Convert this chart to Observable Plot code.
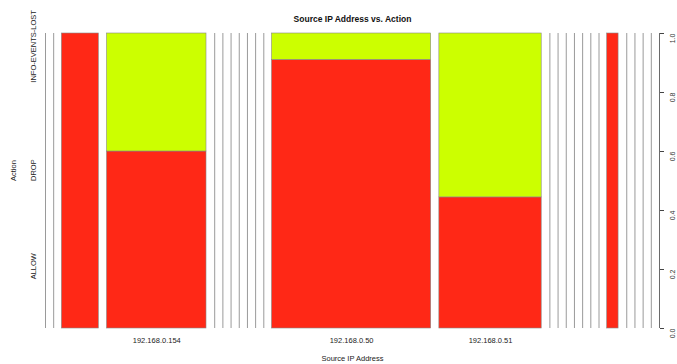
<!DOCTYPE html>
<html>
<head>
<meta charset="utf-8">
<script src="https://cdn.jsdelivr.net/npm/d3@7"></script>
<script src="https://cdn.jsdelivr.net/npm/@observablehq/plot@0.6"></script>
<style>
  html, body { margin: 0; padding: 0; background: #fff; }
  #chart svg { display: block; }
</style>
</head>
<body>
<div id="chart"></div>
<script>
// Source IP categories in plotted order (null = label not shown in the original)
const sourceIPs = [
  null, null, null, "192.168.0.154",
  null, null, null, null, null, null, null,
  "192.168.0.50", "192.168.0.51",
  null, null, null, null, null, null, null,
  null,
  null, null, null, null
];
// Counts per action for each source IP
const allowCounts = [0, 0, 13, 21, 0, 0, 0, 0, 0, 0, 0, 51, 16, 0, 0, 0, 0, 0, 0, 0, 4, 0, 0, 0, 0];
const dropCounts  = [0, 0,  0, 14, 0, 0, 0, 0, 0, 0, 0,  5, 20, 0, 0, 0, 0, 0, 0, 0, 0, 0, 0, 0, 0];
const infoCounts  = [0, 0,  0,  0, 0, 0, 0, 0, 0, 0, 0,  0,  0, 0, 0, 0, 0, 0, 0, 0, 0, 0, 0, 0, 0];
const actions = ["ALLOW", "DROP", "INFO-EVENTS-LOST"];
const actionColors = ["#FF2816", "#CCFF00", "#FFFFFF"];
const yTicks = [0, 0.2, 0.4, 0.6, 0.8, 1.0];
const off = 0.02; // spineplot gap (2%)

const countsByAction = [allowCounts, dropCounts, infoCounts];
const N = d3.sum(sourceIPs.map((_, i) => allowCounts[i] + dropCounts[i] + infoCounts[i]));

// Build column and segment tables
const columns = [];
let cum = 0;
sourceIPs.forEach((ip, i) => {
  const n = allowCounts[i] + dropCounts[i] + infoCounts[i];
  const x1 = cum / N + i * off;
  const x2 = x1 + n / N;
  columns.push({ip, n, x1, x2, xc: (x1 + x2) / 2});
  cum += n;
});
const segments = [];
columns.forEach((c, i) => {
  if (c.n === 0) return;
  let acc = 0;
  actions.forEach((a, k) => {
    const v = countsByAction[k][i];
    if (v > 0) {
      segments.push({ip: c.ip, action: a, x1: c.x1, x2: c.x2, y1: acc / c.n, y2: (acc + v) / c.n});
    }
    acc += v;
  });
});
const xMax = 1 + off * sourceIPs.length;
const empty = columns.filter(c => c.n === 0);
const labeled = columns.filter(c => c.ip);

const font = "'Liberation Sans', Arial, Helvetica, sans-serif";

const chart = Plot.plot({
  width: 677,
  height: 364,
  marginLeft: 45,
  marginRight: 18,
  marginTop: 33,
  marginBottom: 36,
  style: {fontFamily: font, fontSize: "7.5px", color: "#222", background: "#fff"},
  x: {domain: [0, xMax], axis: null},
  y: {domain: [0, 1], axis: null},
  color: {domain: actions, range: actionColors},
  marks: [
    Plot.ruleX(empty, {x: "x1", y1: 0, y2: 1, stroke: "#9a9a9a", strokeWidth: 1}),
    Plot.rect(segments, {x1: "x1", x2: "x2", y1: "y1", y2: "y2", fill: "action", stroke: "#888", strokeWidth: 0.6}),
    // right axis
    Plot.ruleX([xMax], {y1: 0, y2: 1, stroke: "#444", strokeWidth: 0.8}),
    Plot.axisY({anchor: "right", ticks: yTicks, tickSize: 4, tickFormat: () => "", stroke: "#444"}),
    Plot.text(yTicks, {y: d => d, text: d => d3.format(".1f")(d), frameAnchor: "right", dx: 13,
      rotate: -90, fontSize: 7, fill: "#333"}),
    // left labels (equidistant, as in spineplot)
    Plot.text(actions, {y: (d, i) => (i + 0.5) / actions.length, text: d => d, frameAnchor: "left",
      dx: -12, rotate: -90, fontSize: 7.5, fill: "#222"}),
    Plot.text(["Action"], {y: 0.5, text: d => d, frameAnchor: "left", dx: -32, rotate: -90, fontSize: 7.5, fill: "#222"}),
    // x labels
    Plot.text(labeled, {x: "xc", text: "ip", frameAnchor: "bottom", dy: 14.5, fontSize: 7.5, fill: "#222"}),
    Plot.text(["Source IP Address"], {x: xMax / 2, text: d => d, frameAnchor: "bottom", dy: 32, fontSize: 7.5, fill: "#222"}),
    // title
    Plot.text(["Source IP Address vs. Action"], {x: xMax / 2, text: d => d, frameAnchor: "top", dy: -18,
      fontSize: 8.5, fontWeight: "bold", fill: "#111"})
  ]
});
document.getElementById("chart").appendChild(chart);
</script>
</body>
</html>
